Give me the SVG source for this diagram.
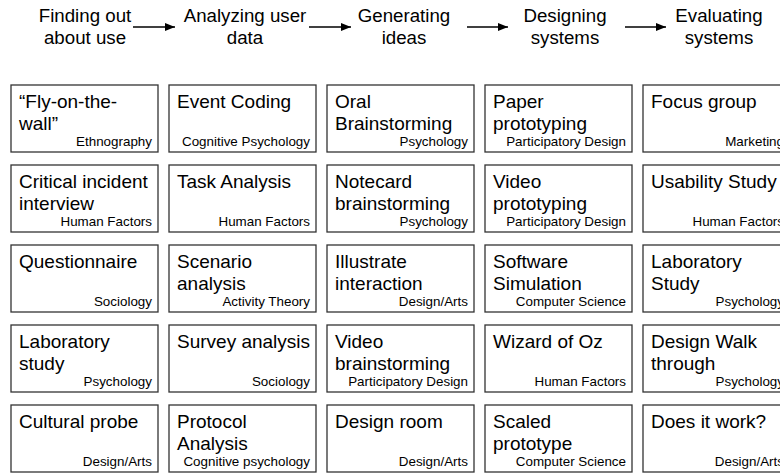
<svg xmlns="http://www.w3.org/2000/svg" width="780" height="473" viewBox="0 0 780 473">
<defs>
<marker id="ah" viewBox="0 0 10 10" refX="10" refY="5" markerWidth="10" markerHeight="10" markerUnits="userSpaceOnUse" orient="auto">
<path d="M0,1 L10,5 L0,9 Z" fill="#000"/>
</marker>
</defs>
<style>
text{font-family:"Liberation Sans",Arial,sans-serif;fill:#000}
.h{font-size:18.7px;text-anchor:middle}
.t{font-size:19px}
.d{font-size:13.4px;text-anchor:end}
rect{fill:#fff;stroke:#333;stroke-width:1.3}
.c{stroke:#000;stroke-width:1.5;fill:none;marker-end:url(#ah)}
</style>
<rect x="0" y="0" width="780" height="473" style="stroke:none;fill:#fff"/>
<g id="headers">
<g id="h1"><text class="h" x="85" y="22">Finding out</text><text class="h" x="85" y="44">about use</text></g>
<g id="h2"><text class="h" x="245" y="22">Analyzing user</text><text class="h" x="245" y="44">data</text></g>
<g id="h3"><text class="h" x="404" y="22">Generating</text><text class="h" x="404" y="44">ideas</text></g>
<g id="h4"><text class="h" x="565" y="22">Designing</text><text class="h" x="565" y="44">systems</text></g>
<g id="h5"><text class="h" x="719" y="22">Evaluating</text><text class="h" x="719" y="44">systems</text></g>
</g>
<g id="connectors">
<line class="c" x1="133" y1="27" x2="175" y2="27"/>
<line class="c" x1="309" y1="27" x2="351" y2="27"/>
<line class="c" x1="467" y1="27" x2="508" y2="27"/>
<line class="c" x1="625" y1="27" x2="666" y2="27"/>
</g>
<!-- column 1 -->
<g id="n11" transform="translate(11,85)"><rect width="147" height="67"/><text class="t" x="8" y="23">“Fly-on-the-</text><text class="t" x="8" y="45">wall”</text><text class="d" x="141" y="61">Ethnography</text></g>
<g id="n12" transform="translate(11,165)"><rect width="147" height="67"/><text class="t" x="8" y="23">Critical incident</text><text class="t" x="8" y="45">interview</text><text class="d" x="141" y="61">Human Factors</text></g>
<g id="n13" transform="translate(11,245)"><rect width="147" height="67"/><text class="t" x="8" y="23">Questionnaire</text><text class="d" x="141" y="61">Sociology</text></g>
<g id="n14" transform="translate(11,325)"><rect width="147" height="67"/><text class="t" x="8" y="23">Laboratory</text><text class="t" x="8" y="45">study</text><text class="d" x="141" y="61">Psychology</text></g>
<g id="n15" transform="translate(11,405)"><rect width="147" height="67"/><text class="t" x="8" y="23">Cultural probe</text><text class="d" x="141" y="61">Design/Arts</text></g>
<!-- column 2 -->
<g id="n21" transform="translate(169,85)"><rect width="147" height="67"/><text class="t" x="8" y="23">Event Coding</text><text class="d" x="141" y="61">Cognitive Psychology</text></g>
<g id="n22" transform="translate(169,165)"><rect width="147" height="67"/><text class="t" x="8" y="23">Task Analysis</text><text class="d" x="141" y="61">Human Factors</text></g>
<g id="n23" transform="translate(169,245)"><rect width="147" height="67"/><text class="t" x="8" y="23">Scenario</text><text class="t" x="8" y="45">analysis</text><text class="d" x="141" y="61">Activity Theory</text></g>
<g id="n24" transform="translate(169,325)"><rect width="147" height="67"/><text class="t" x="8" y="23">Survey analysis</text><text class="d" x="141" y="61">Sociology</text></g>
<g id="n25" transform="translate(169,405)"><rect width="147" height="67"/><text class="t" x="8" y="23">Protocol</text><text class="t" x="8" y="45">Analysis</text><text class="d" x="141" y="61">Cognitive psychology</text></g>
<!-- column 3 -->
<g id="n31" transform="translate(327,85)"><rect width="147" height="67"/><text class="t" x="8" y="23">Oral</text><text class="t" x="8" y="45">Brainstorming</text><text class="d" x="141" y="61">Psychology</text></g>
<g id="n32" transform="translate(327,165)"><rect width="147" height="67"/><text class="t" x="8" y="23">Notecard</text><text class="t" x="8" y="45">brainstorming</text><text class="d" x="141" y="61">Psychology</text></g>
<g id="n33" transform="translate(327,245)"><rect width="147" height="67"/><text class="t" x="8" y="23">Illustrate</text><text class="t" x="8" y="45">interaction</text><text class="d" x="141" y="61">Design/Arts</text></g>
<g id="n34" transform="translate(327,325)"><rect width="147" height="67"/><text class="t" x="8" y="23">Video</text><text class="t" x="8" y="45">brainstorming</text><text class="d" x="141" y="61">Participatory Design</text></g>
<g id="n35" transform="translate(327,405)"><rect width="147" height="67"/><text class="t" x="8" y="23">Design room</text><text class="d" x="141" y="61">Design/Arts</text></g>
<!-- column 4 -->
<g id="n41" transform="translate(485,85)"><rect width="147" height="67"/><text class="t" x="8" y="23">Paper</text><text class="t" x="8" y="45">prototyping</text><text class="d" x="141" y="61">Participatory Design</text></g>
<g id="n42" transform="translate(485,165)"><rect width="147" height="67"/><text class="t" x="8" y="23">Video</text><text class="t" x="8" y="45">prototyping</text><text class="d" x="141" y="61">Participatory Design</text></g>
<g id="n43" transform="translate(485,245)"><rect width="147" height="67"/><text class="t" x="8" y="23">Software</text><text class="t" x="8" y="45">Simulation</text><text class="d" x="141" y="61">Computer Science</text></g>
<g id="n44" transform="translate(485,325)"><rect width="147" height="67"/><text class="t" x="8" y="23">Wizard of Oz</text><text class="d" x="141" y="61">Human Factors</text></g>
<g id="n45" transform="translate(485,405)"><rect width="147" height="67"/><text class="t" x="8" y="23">Scaled</text><text class="t" x="8" y="45">prototype</text><text class="d" x="141" y="61">Computer Science</text></g>
<!-- column 5 -->
<g id="n51" transform="translate(643,85)"><rect width="147" height="67"/><text class="t" x="8" y="23">Focus group</text><text class="d" x="141" y="61">Marketing</text></g>
<g id="n52" transform="translate(643,165)"><rect width="147" height="67"/><text class="t" x="8" y="23">Usability Study</text><text class="d" x="141" y="61">Human Factors</text></g>
<g id="n53" transform="translate(643,245)"><rect width="147" height="67"/><text class="t" x="8" y="23">Laboratory</text><text class="t" x="8" y="45">Study</text><text class="d" x="141" y="61">Psychology</text></g>
<g id="n54" transform="translate(643,325)"><rect width="147" height="67"/><text class="t" x="8" y="23">Design Walk</text><text class="t" x="8" y="45">through</text><text class="d" x="141" y="61">Psychology</text></g>
<g id="n55" transform="translate(643,405)"><rect width="147" height="67"/><text class="t" x="8" y="23">Does it work?</text><text class="d" x="141" y="61">Design/Arts</text></g>
</svg>
